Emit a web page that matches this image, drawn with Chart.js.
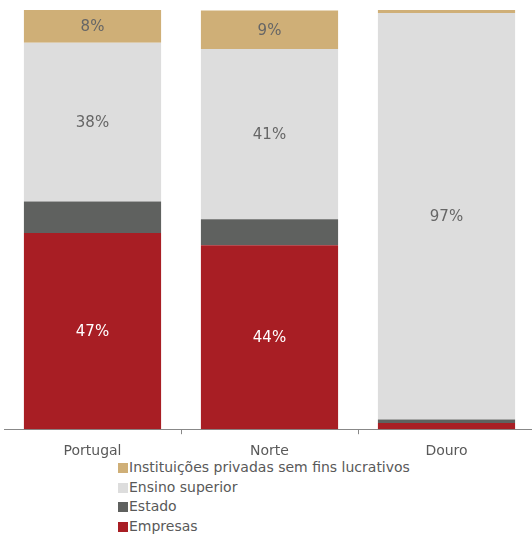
<!DOCTYPE html>
<html>
<head>
<meta charset="utf-8">
<script src="https://cdn.jsdelivr.net/npm/chart.js@4"></script>
<style>
  html, body { margin: 0; padding: 0; background: #fff; }
  body { width: 532px; height: 535px; overflow: hidden; font-family: "DejaVu Sans", Verdana, sans-serif; }
  #wrap { position: relative; width: 535px; height: 469px; }
  #legenda { list-style: none; margin: -11px 0 0 0; padding: 0 0 0 118px; color: #595959; font-size: 14px; }
  #legenda li { height: 19.7px; line-height: 19.7px; display: flex; align-items: center; }
  #legenda span.caixa { display: inline-block; width: 10px; height: 10px; margin-right: 1px; }
</style>
</head>
<body>
<div id="wrap"><canvas id="grafico"></canvas></div>
<ul id="legenda"></ul>
<script>
const regioes = ["Portugal", "Norte", "Douro"];
const empresas = [46.8, 43.9, 1.5];
const estado = [7.5, 6.2, 0.8];
const ensinoSuperior = [37.9, 40.6, 97.0];
const ipsfl = [7.9, 9.2, 0.7];

const cores = {
  empresas: "#a81e24",
  estado: "#5f615f",
  ensino: "#dddddd",
  ipsfl: "#cfaf77"
};

// Rótulos de valor no centro de cada segmento
const rotulosPlugin = {
  id: "rotulos",
  afterDatasetsDraw(chart) {
    const ctx = chart.ctx;
    ctx.save();
    ctx.font = "15px 'DejaVu Sans', Verdana, sans-serif";
    ctx.textAlign = "center";
    ctx.textBaseline = "middle";
    chart.data.datasets.forEach((ds, i) => {
      if (!ds.mostrarRotulo) return;
      chart.getDatasetMeta(i).data.forEach((bar, j) => {
        const v = ds.data[j];
        if (v < 5) return;
        ctx.fillStyle = ds.corRotulo;
        ctx.fillText(Math.round(v) + "%", bar.x, (bar.y + bar.base) / 2 + 1);
      });
    });
    ctx.restore();
  }
};

const grafico = new Chart(document.getElementById("grafico"), {
  type: "bar",
  data: {
    labels: regioes,
    datasets: [
      { label: "Empresas", data: empresas, backgroundColor: cores.empresas, mostrarRotulo: true, corRotulo: "#ffffff" },
      { label: "Estado", data: estado, backgroundColor: cores.estado, mostrarRotulo: false },
      { label: "Ensino superior", data: ensinoSuperior, backgroundColor: cores.ensino, mostrarRotulo: true, corRotulo: "#666666" },
      { label: "Instituições privadas sem fins lucrativos", data: ipsfl, backgroundColor: cores.ipsfl, mostrarRotulo: true, corRotulo: "#666666" }
    ]
  },
  options: {
    responsive: true,
    maintainAspectRatio: false,
    animation: false,
    layout: { padding: { top: 10, left: 4, right: 0, bottom: 0 } },
    datasets: {
      bar: { barPercentage: 0.775, categoryPercentage: 1 }
    },
    plugins: {
      legend: { display: false },
      tooltip: { enabled: false }
    },
    scales: {
      x: {
        stacked: true,
        grid: {
          drawOnChartArea: false,
          tickLength: 5,
          color: c => (c.index > 0 && c.index < 3) ? "#888888" : "rgba(0,0,0,0)"
        },
        border: { color: "#888888", width: 1 },
        ticks: {
          color: "#595959",
          padding: 9,
          font: { family: "'DejaVu Sans', Verdana, sans-serif", size: 14 }
        }
      },
      y: {
        stacked: true,
        display: false,
        min: 0,
        max: 100
      }
    }
  },
  plugins: [rotulosPlugin]
});

// Legenda em lista, ordem inversa
const legenda = document.getElementById("legenda");
grafico.data.datasets.slice().reverse().forEach(ds => {
  const li = document.createElement("li");
  li.innerHTML = `<span class="caixa" style="background:${ds.backgroundColor}"></span>${ds.label}`;
  legenda.appendChild(li);
});
</script>
</body>
</html>
